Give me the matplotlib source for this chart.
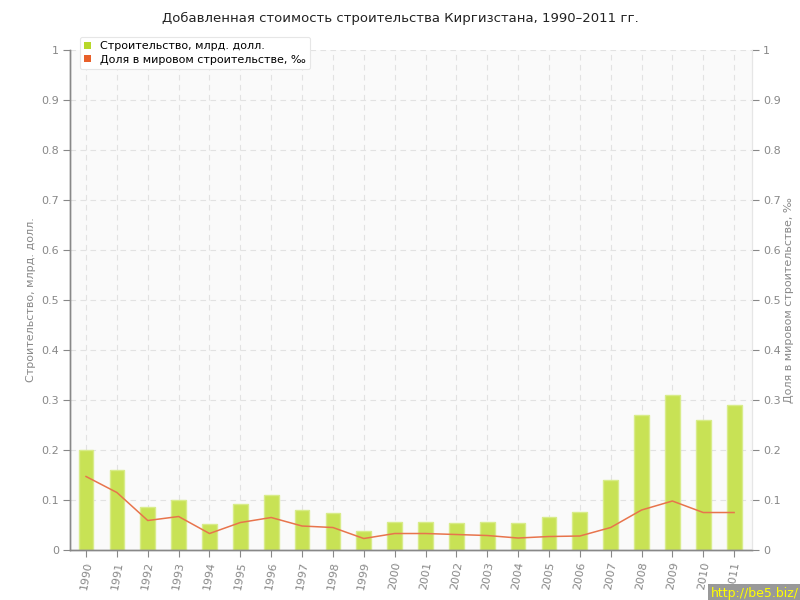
import matplotlib
matplotlib.use("Agg")
import matplotlib.pyplot as plt
from matplotlib.patches import Patch
import numpy as np

years = [str(y) for y in range(1990, 2012)]
construction = [0.20, 0.16, 0.086, 0.10, 0.053, 0.092, 0.11, 0.080, 0.074, 0.038, 0.057,
                0.057, 0.055, 0.056, 0.054, 0.067, 0.076, 0.14, 0.27, 0.31, 0.26, 0.29]
share = [0.147, 0.115, 0.059, 0.067, 0.033, 0.055, 0.065, 0.048, 0.045, 0.023, 0.033,
         0.033, 0.031, 0.029, 0.024, 0.027, 0.028, 0.045, 0.080, 0.098, 0.075, 0.075]
yticks = [0, 0.1, 0.2, 0.3, 0.4, 0.5, 0.6, 0.7, 0.8, 0.9, 1]
yticklabels = ["0", "0.1", "0.2", "0.3", "0.4", "0.5", "0.6", "0.7", "0.8", "0.9", "1"]

title = "Добавленная стоимость строительства Киргизстана, 1990–2011 гг."
left_label = "Строительство, млрд. долл."
right_label = "Доля в мировом строительстве, ‰"

plt.rcParams['font.family'] = ['DejaVu Sans']
gray = "#888888"
bar_color = "#c8e255"
bar_edge = "#d8ec8a"
line_color = "#e8744c"

fig = plt.figure(figsize=(8, 6), dpi=100)
ax = fig.add_axes([0.0875, 0.0833, 0.8525, 0.8334])
ax.set_facecolor("#fafafa")

x = np.arange(len(years))
ax.bar(x, construction, width=0.48, color=bar_color, edgecolor=bar_edge, linewidth=1, zorder=2)
ax2 = ax.twinx()
ax2.plot(x, share, color=line_color, linewidth=1.1, zorder=3)

for a in (ax, ax2):
    a.set_ylim(0, 1)
    a.set_yticks(yticks)
    a.set_yticklabels(yticklabels)
    a.tick_params(axis='y', colors=gray, labelsize=8, length=5, width=0.8, pad=3)
ax.set_xlim(-0.52, 21.58)
ax.set_xticks(x)
ax.set_xticklabels(years, rotation=80, fontsize=8, color=gray)
ax.tick_params(axis='x', colors=gray, length=5, width=0.8, pad=3)

ax.grid(True, color="#e2e2e2", linestyle=(0, (5, 4)), linewidth=0.8, zorder=0)
ax.set_axisbelow(True)

for a in (ax, ax2):
    a.spines['top'].set_visible(False)
    a.spines['left'].set_color(gray)
    a.spines['bottom'].set_color(gray)
    a.spines['right'].set_color("#e6e6e6")
    a.spines['left'].set_linewidth(1)
    a.spines['bottom'].set_linewidth(1)

ax.set_ylabel(left_label, color=gray, fontsize=8, labelpad=4)
ax2.set_ylabel(right_label, color=gray, fontsize=8, labelpad=2)

fig.text(0.5, 0.97, title, ha='center', va='center', fontsize=9.5, color="#222222")

handles = [Patch(facecolor="#b8d82a", edgecolor="none"), Patch(facecolor="#e8602a", edgecolor="none")]
leg = fig.legend(handles, [left_label, right_label], loc='upper left',
                 bbox_to_anchor=(0.093, 0.948), fontsize=8, frameon=True, fancybox=True,
                 shadow=False, handlelength=0.6, handleheight=0.6, handletextpad=0.8,
                 borderpad=0.4, labelspacing=0.3, framealpha=1)
leg.get_frame().set_edgecolor("#e6e6e6")
leg.get_frame().set_linewidth(0.8)

fig.text(0.999, 0.0, "http://be5.biz/", ha='right', va='bottom', fontsize=9,
         color="#ffff00", bbox=dict(facecolor="#999999", edgecolor="none", pad=2))

fig.savefig("out.png", dpi=100)
